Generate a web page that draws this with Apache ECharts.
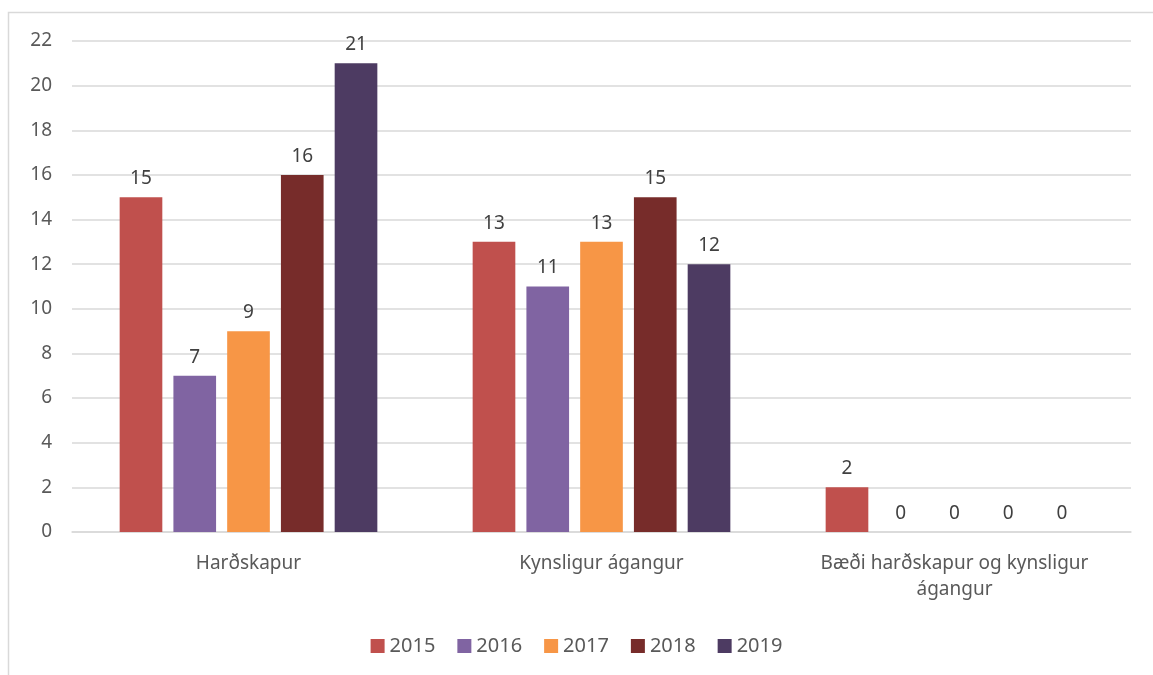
<!DOCTYPE html>
<html>
<head>
<meta charset="utf-8">
<script src="https://cdn.jsdelivr.net/npm/echarts@6/dist/echarts.min.js"></script>
<style>
  html, body { margin: 0; padding: 0; background: #fff; }
  #chart { width: 1153px; height: 675px; }
</style>
</head>
<body>
<div id="chart"></div>
<script>
  // gögn lesin af myndinni
  const categories = ['Harðskapur', 'Kynsligur ágangur', 'Bæði harðskapur og kynsligur\nágangur'];
  const years = ['2015', '2016', '2017', '2018', '2019'];
  const v2015 = [15, 13, 2];
  const v2016 = [7, 11, 0];
  const v2017 = [9, 13, 0];
  const v2018 = [16, 15, 0];
  const v2019 = [21, 12, 0];
  const colors = ['#C0504D', '#8064A2', '#F79646', '#772C2A', '#4D3B62'];

  const values = [v2015, v2016, v2017, v2018, v2019];
  const font = 'Noto Sans, Liberation Sans, sans-serif';

  let chart = echarts.init(document.getElementById('chart'));
  chart.setOption({
    animation: false,
    textStyle: { fontFamily: font },
    graphic: [
      {
        type: 'rect',
        shape: { x: 8.5, y: 12.5, width: 1160, height: 700 },
        style: { fill: 'none', stroke: '#d9d9d9', lineWidth: 1.5 },
        silent: true
      }
    ],
    grid: { left: 72, right: 22, top: 41, bottom: 143 },
    legend: {
      bottom: 14,
      left: 'center',
      itemWidth: 14,
      itemHeight: 14,
      itemGap: 22,
      icon: 'rect',
      textStyle: { fontSize: 20, color: '#595959', fontFamily: font },
      data: years
    },
    xAxis: {
      type: 'category',
      data: categories,
      axisLine: { lineStyle: { color: '#d9d9d9', width: 1.5 } },
      axisTick: { show: false },
      axisLabel: { fontSize: 19, color: '#595959', margin: 19, lineHeight: 26, interval: 0 }
    },
    yAxis: {
      type: 'value',
      min: 0,
      max: 22,
      interval: 2,
      axisLine: { show: false },
      axisTick: { show: false },
      axisLabel: { fontSize: 19, color: '#595959', margin: 20 },
      splitLine: { lineStyle: { color: '#d9d9d9', width: 1.5 } }
    },
    series: years.map((y, i) => ({
      name: y,
      type: 'bar',
      data: values[i],
      barGap: '26%',
      barCategoryGap: '27%',
      itemStyle: { color: colors[i] },
      label: {
        show: true,
        position: 'top',
        distance: 9,
        fontSize: 19,
        color: '#404040',
        fontFamily: font
      }
    }))
  });
</script>
</body>
</html>
